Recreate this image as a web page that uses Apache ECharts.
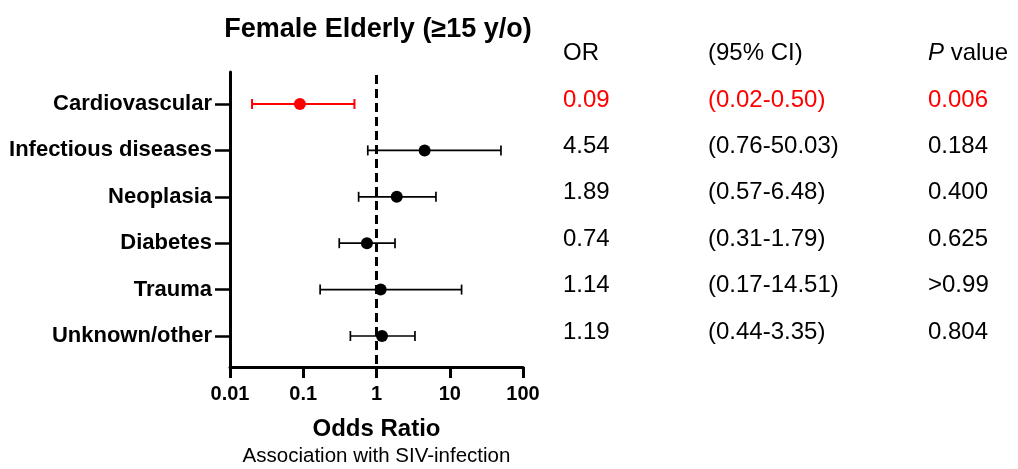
<!DOCTYPE html>
<html>
<head>
<meta charset="utf-8">
<script src="https://cdn.jsdelivr.net/npm/echarts@6/dist/echarts.min.js"></script>
<style>html,body{margin:0;padding:0;background:#fff}#c{width:1018px;height:469px}</style>
</head>
<body>
<div id="c"></div>
<script>
const categories = ['Cardiovascular', 'Infectious diseases', 'Neoplasia', 'Diabetes', 'Trauma', 'Unknown/other'];
const orValues = [0.09, 4.54, 1.89, 0.74, 1.14, 1.19];
const ciLow = [0.02, 0.76, 0.57, 0.31, 0.17, 0.44];
const ciHigh = [0.50, 50.03, 6.48, 1.79, 14.51, 3.35];
const orLabels = ['0.09', '4.54', '1.89', '0.74', '1.14', '1.19'];
const ciLabels = ['(0.02-0.50)', '(0.76-50.03)', '(0.57-6.48)', '(0.31-1.79)', '(0.17-14.51)', '(0.44-3.35)'];
const pLabels = ['0.006', '0.184', '0.400', '0.625', '>0.99', '0.804'];
const highlighted = [true, false, false, false, false, false];
const xTickLabels = ['0.01', '0.1', '1', '10', '100'];
const referenceLine = 1;
const titleText = 'Female Elderly (\u226515 y/o)';
const axisTitle = 'Odds Ratio';
const axisSubtitle = 'Association with SIV-infection';
const tableHeaders = ['OR', '(95% CI)', '{i|P} value'];

const FONT = '"Liberation Sans", Arial, Helvetica, sans-serif';
const RED = '#ff0000';
const BLACK = '#000000';
const colorOf = i => highlighted[i] ? RED : BLACK;

const chart = echarts.init(document.getElementById('c'), null, {renderer: 'canvas'});

const tableCols = [563, 708, 928];
const TABLE_FS = 24;

const option = {
  animation: false,
  backgroundColor: '#ffffff',
  grid: [
    {left: 230, top: 72, width: 293, height: 295, containLabel: false, outerBoundsMode: 'none'},
    {left: 230, top: 80.8, width: 293, height: 278.4, containLabel: false, outerBoundsMode: 'none'}
  ],
  xAxis: [
    {
      gridIndex: 0, type: 'log', logBase: 10, min: 0.01, max: 100,
      axisLine: {show: true, onZero: false, lineStyle: {color: BLACK, width: 3}},
      axisTick: {show: true, inside: false, length: 11, lineStyle: {color: BLACK, width: 3}},
      minorTick: {show: false},
      splitLine: {show: false},
      axisLabel: {
        color: BLACK, fontFamily: FONT, fontWeight: 'bold', fontSize: 20, margin: 17,
        formatter: v => {
          const k = Math.round(Math.log10(v)) + 2;
          return xTickLabels[k] !== undefined ? xTickLabels[k] : '';
        }
      },
      name: '{a|' + axisTitle + '}\n{b|' + axisSubtitle + '}',
      nameLocation: 'middle',
      nameGap: 49,
      nameTextStyle: {
        verticalAlign: 'top',
        rich: {
          a: {fontFamily: FONT, fontWeight: 'bold', fontSize: 24, color: BLACK, lineHeight: 27, align: 'center'},
          b: {fontFamily: FONT, fontSize: 20.5, color: BLACK, lineHeight: 27, align: 'center'}
        }
      }
    },
    {
      gridIndex: 1, type: 'log', logBase: 10, min: 0.01, max: 100, show: false
    }
  ],
  yAxis: [
    {
      gridIndex: 0, type: 'value', min: 0, max: 1,
      axisLine: {show: true, onZero: false, lineStyle: {color: BLACK, width: 3}},
      axisTick: {show: false}, axisLabel: {show: false}, splitLine: {show: false}
    },
    {
      gridIndex: 1, type: 'category', data: categories, inverse: true, boundaryGap: true,
      axisLine: {show: false},
      axisTick: {show: true, alignWithLabel: true, length: 15, lineStyle: {color: BLACK, width: 2.5}},
      splitLine: {show: false},
      axisLabel: {color: BLACK, fontFamily: FONT, fontWeight: 'bold', fontSize: 22, margin: 18}
    }
  ],
  graphic: [
    {type: 'text', x: 378, y: 30, style: {text: titleText, fontFamily: FONT, fontWeight: 'bold', fontSize: 27, fill: BLACK, textAlign: 'center', verticalAlign: 'middle'}}
  ].concat(tableHeaders.map((h, j) => ({
    type: 'text', x: tableCols[j], y: 53, style: {
      text: h, fontFamily: FONT, fontSize: TABLE_FS, fill: BLACK, verticalAlign: 'middle', textAlign: 'left',
      rich: {i: {fontFamily: FONT, fontSize: TABLE_FS, fontStyle: 'italic', fill: BLACK}}
    }
  }))),
  series: [
    {
      type: 'line', xAxisIndex: 0, yAxisIndex: 0,
      data: [[referenceLine, 0.01], [referenceLine, 1]],
      symbol: 'none', silent: true,
      lineStyle: {color: BLACK, width: 3, type: [9, 5]}
    },
    {
      type: 'custom', xAxisIndex: 1, yAxisIndex: 1,
      data: categories.map((c, i) => [i, ciLow[i], ciHigh[i]]),
      renderItem: (params, api) => {
        const i = api.value(0);
        const p1 = api.coord([api.value(1), i]);
        const p2 = api.coord([api.value(2), i]);
        const h = 5;
        const st = {stroke: colorOf(i), lineWidth: highlighted[i] ? 2 : 1.7};
        return {type: 'group', children: [
          {type: 'line', shape: {x1: p1[0], y1: p1[1], x2: p2[0], y2: p2[1]}, style: st},
          {type: 'line', shape: {x1: p1[0], y1: p1[1] - h, x2: p1[0], y2: p1[1] + h}, style: st},
          {type: 'line', shape: {x1: p2[0], y1: p2[1] - h, x2: p2[0], y2: p2[1] + h}, style: st}
        ]};
      },
      z: 3
    },
    {
      type: 'scatter', xAxisIndex: 1, yAxisIndex: 1,
      symbol: 'circle', symbolSize: 12,
      data: orValues.map((v, i) => ({value: [v, i], itemStyle: {color: colorOf(i), opacity: 1}})),
      itemStyle: {opacity: 1},
      z: 4
    },
    {
      type: 'custom', xAxisIndex: 1, yAxisIndex: 1, clip: false,
      data: categories.map((c, i) => [i]),
      renderItem: (params, api) => {
        const i = api.value(0);
        const y = api.coord([1, i])[1] - 4;
        const mk = (x, t) => ({type: 'text', x: x, y: y, style: {
          text: t, fontFamily: FONT, fontSize: TABLE_FS, fill: colorOf(i), textAlign: 'left', verticalAlign: 'middle'
        }});
        return {type: 'group', children: [
          mk(tableCols[0], orLabels[i]), mk(tableCols[1], ciLabels[i]), mk(tableCols[2], pLabels[i])
        ]};
      }
    }
  ]
};
chart.setOption(option);
</script>
</body>
</html>
